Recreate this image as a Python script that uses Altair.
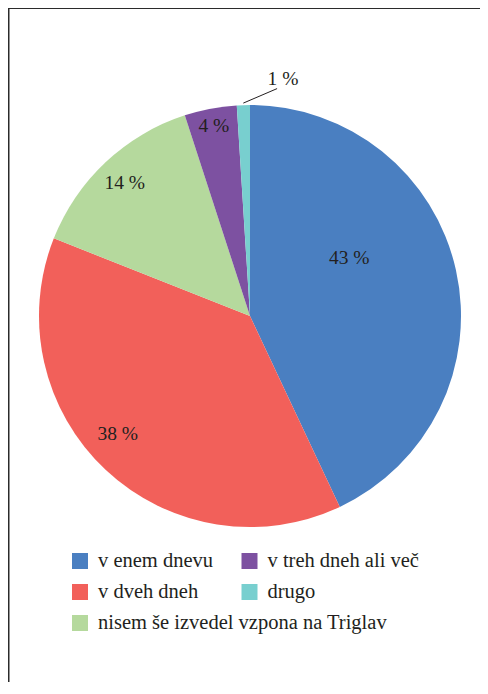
import altair as alt
import pandas as pd

# ---- data ----
categories = ["v enem dnevu", "v dveh dneh", "nisem še izvedel vzpona na Triglav",
              "v treh dneh ali več", "drugo"]
values = [43, 38, 14, 4, 1]
labels = ["43 %", "38 %", "14 %", "4 %", "1 %"]
colors = ["#4A7FC1", "#F2605A", "#B5D99D", "#7D51A1", "#78CFCF"]
legend_row = [0, 1, 2, 0, 1]
legend_col = [0, 0, 0, 1, 1]

# ---- layout ----
W, H = 472, 674
CX, CY, R = 242, 308, 211
FONT = "Liberation Serif"
TXT = "#231F20"

df = pd.DataFrame({
    "cat": categories, "value": values, "label": labels,
    "idx": list(range(len(categories))), "lrow": legend_row, "lcol": legend_col,
})

base = alt.Chart(df)
color = alt.Color("cat:N", scale=alt.Scale(domain=categories, range=colors), legend=None)

pie = base.mark_arc(outerRadius=R).encode(
    theta=alt.Theta("value:Q", stack=True),
    order=alt.Order("idx:Q"),
    color=color,
    x=alt.value(CX),
    y=alt.value(CY),
)

lab = base.transform_window(
    cum="sum(value)", sort=[alt.SortField("idx")], frame=[None, 0]
).transform_calculate(
    mid="(datum.cum - datum.value / 2) / 100 * 2 * PI"
).transform_calculate(
    ang=("datum.value > 40 ? datum.mid - 0.31 : (datum.value > 30 ? datum.mid + 0.09 : "
         "(datum.value < 2 ? datum.mid + 0.17 : datum.mid))"),
    rr=("datum.value > 40 ? 115 : (datum.value > 30 ? 177 : (datum.value < 2 ? 239 : "
        "(datum.value < 10 ? 193 : 183)))"),
).transform_calculate(
    tx=f"{CX} + datum.rr * sin(datum.ang)",
    ty=f"{CY} - datum.rr * cos(datum.ang)",
    lx1=f"{CX} + {R + 2} * sin(datum.mid)",
    ly1=f"{CY} - {R + 2} * cos(datum.mid)",
    lx2=f"{CX} + 229 * sin(datum.mid + 0.15)",
    ly2=f"{CY} - 229 * cos(datum.mid + 0.15)",
)

pie_text = lab.mark_text(font=FONT, fontSize=19.5, color=TXT, align="center",
                         baseline="middle").encode(
    x=alt.X("tx:Q", scale=None, axis=None),
    y=alt.Y("ty:Q", scale=None, axis=None),
    text="label:N",
)

leader = lab.transform_filter("datum.value < 2").mark_rule(
    color=TXT, strokeWidth=1
).encode(
    x=alt.X("lx1:Q", scale=None, axis=None),
    y=alt.Y("ly1:Q", scale=None, axis=None),
    x2="lx2:Q",
    y2="ly2:Q",
)

lx = alt.X("lcol:Q", scale=alt.Scale(domain=[0, 1], range=[72, 241.5]), axis=None)
ly = alt.Y("lrow:Q", scale=alt.Scale(domain=[0, 2], range=[553, 615]), axis=None)

leg_sq = base.mark_square(size=256, opacity=1, filled=True).encode(x=lx, y=ly, color=color)
leg_txt = base.mark_text(font=FONT, fontSize=20.5, color=TXT, align="left",
                         baseline="middle", dx=18).encode(x=lx, y=ly, text="cat:N")

frame = alt.Chart(pd.DataFrame({"k": [0]})).mark_rule(color="#2b2b2b", strokeWidth=1.5)
left_line = frame.encode(x=alt.value(0.75), y=alt.value(0), y2=alt.value(H))
top_line = frame.encode(x=alt.value(0), x2=alt.value(W), y=alt.value(0.25))

chart = alt.layer(
    pie, pie_text, leader, leg_sq, leg_txt, left_line, top_line
).resolve_scale(
    x="independent", y="independent"
).properties(
    width=W, height=H, padding=0,
    autosize=alt.AutoSizeParams(type="none"),
).configure_view(stroke=None)

chart.save("out.html", embed_options={"renderer": "svg", "actions": False})
